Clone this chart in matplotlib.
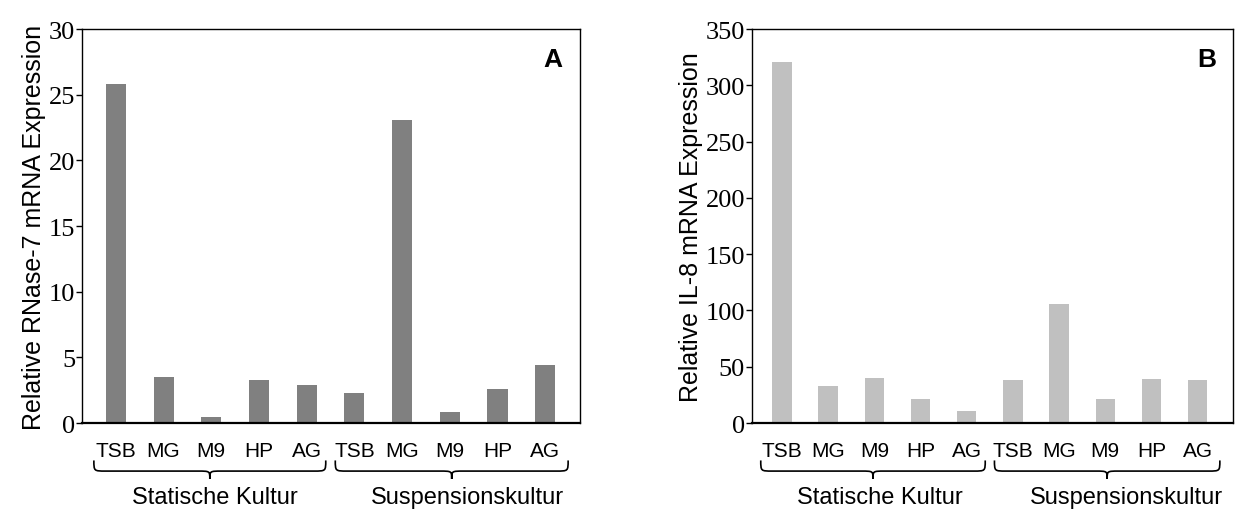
import matplotlib.pyplot as plt
from matplotlib.path import Path
from matplotlib.patches import PathPatch
from matplotlib.transforms import blended_transform_factory

media = ['TSB', 'MG', 'M9', 'HP', 'AG', 'TSB', 'MG', 'M9', 'HP', 'AG']
groups = ['Statische Kultur', 'Suspensionskultur']
rnase7 = [25.8, 3.5, 0.48, 3.3, 2.9, 2.3, 23.1, 0.84, 2.6, 4.4]
il8 = [321, 32.5, 40.4, 21, 10.5, 37.8, 106, 21, 39.5, 38.6]

serif = ['Liberation Serif', 'DejaVu Serif']
sans = ['Liberation Sans', 'DejaVu Sans']


def brace(ax, x0, x1, y_top=-0.095, y_mid=-0.122, y_tip=-0.142):
    # curly brace under a group of bars (x in data, y in axes fraction)
    xm = (x0 + x1) / 2
    r = 0.25
    verts = [(x0, y_top), (x0, y_mid), (x0, y_mid), (x0 + r, y_mid),
             (xm - r, y_mid),
             (xm, y_mid), (xm, y_mid), (xm, y_tip),
             (xm, y_mid), (xm, y_mid), (xm + r, y_mid),
             (x1 - r, y_mid),
             (x1, y_mid), (x1, y_mid), (x1, y_top)]
    codes = [Path.MOVETO, Path.CURVE4, Path.CURVE4, Path.CURVE4,
             Path.LINETO,
             Path.CURVE4, Path.CURVE4, Path.CURVE4,
             Path.CURVE4, Path.CURVE4, Path.CURVE4,
             Path.LINETO,
             Path.CURVE4, Path.CURVE4, Path.CURVE4]
    tr = blended_transform_factory(ax.transData, ax.transAxes)
    ax.add_patch(PathPatch(Path(verts, codes), transform=tr, fill=False,
                           lw=1.2, color='black', clip_on=False))


def panel(ax, values, color, ymax, ystep, ylabel, letter, xlim, label_x):
    x = list(range(len(values)))
    ax.bar(x, values, width=0.42, color=color)
    ax.set_xlim(*xlim)
    ax.set_ylim(0, ymax)
    ax.set_yticks(range(0, ymax + 1, ystep))
    for t in ax.get_yticklabels():
        t.set_family(serif)
        t.set_fontsize(19)
    ax.tick_params(axis='y', direction='out', length=4, width=1, pad=1)
    ax.set_xticks(x)
    ax.set_xticklabels(media, family=sans, fontsize=15)
    ax.tick_params(axis='x', length=0, pad=13)
    ax.set_ylabel(ylabel, family=sans, fontsize=18, labelpad=2)
    for s in ax.spines.values():
        s.set_linewidth(1)
    ax.spines['bottom'].set_linewidth(1.6)
    ax.text(0.965, 0.925, letter, transform=ax.transAxes, ha='right', va='center',
            fontsize=19, fontweight='bold', family=sans)
    brace(ax, -0.46, 4.4)
    brace(ax, 4.6, 9.48)
    tr = blended_transform_factory(ax.transData, ax.transAxes)
    for gx, g in zip(label_x, groups):
        ax.text(gx, -0.188, g, transform=tr, ha='center', va='center',
                family=sans, fontsize=17)


fig = plt.figure(figsize=(12.36, 5.10), dpi=100)
ax1 = fig.add_axes([0.0663, 0.1686, 0.403, 0.7725])
ax2 = fig.add_axes([0.6084, 0.1686, 0.389, 0.7725])

panel(ax1, rnase7, '#808080', 30, 5, 'Relative RNase-7 mRNA Expression', 'A',
      (-0.71, 9.73), [2.08, 7.36])
panel(ax2, il8, '#c0c0c0', 350, 50, 'Relative IL-8 mRNA Expression', 'B',
      (-0.65, 9.76), [2.12, 7.45])

fig.savefig('out.png', dpi=100)
